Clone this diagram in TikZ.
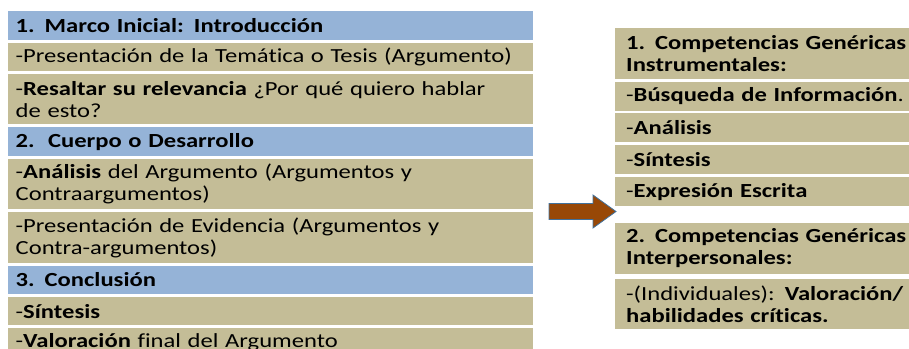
\documentclass[tikz,border=0pt]{standalone}
\usepackage{fontspec}
\setmainfont{Carlito}[FakeStretch=1.23, Ligatures=NoCommon]
\usepackage{tikz}
\usetikzlibrary{positioning}
\definecolor{headblue}{HTML}{95B3D7}
\definecolor{itemtan}{HTML}{C4BD97}
\definecolor{arrowbrown}{HTML}{984807}
\definecolor{arrowedge}{HTML}{41719C}

\begin{document}
\begin{tikzpicture}[node distance=2.5bp,
  leftrow/.style={rectangle, text width=510bp, inner xsep=7.5bp, inner ysep=0pt, align=left, font=\fontsize{20bp}{22bp}\selectfont, minimum height=28.5bp},
  rightrow/.style={rectangle, text width=300bp, inner xsep=11bp, inner ysep=0pt, align=left, font=\fontsize{20bp}{22bp}\selectfont, minimum height=29bp},
  secbox/.style={leftrow, fill=headblue},
  itembox/.style={leftrow, fill=itemtan},
  tallbox/.style={minimum height=50.5bp},
  compbox/.style={rightrow, fill=itemtan},
  blockarrow/.style={fill=arrowbrown, draw=arrowedge, thick}]
  \useasboundingbox (0,0) rectangle (909bp,-349bp);

  \node [secbox, anchor=north west] (m1) at (8bp,-11bp) {\textbf{1. Marco Inicial: Introducción}};
  \node [itembox, below=of m1] (m1a) {-Presentación de la Temática o Tesis (Argumento)};
  \node [itembox, tallbox, below=of m1a] (m1b) {-\textbf{Resaltar su relevancia} ¿Por qué quiero hablar\\de esto?};
  \node [secbox, below=of m1b] (m2) {\textbf{2.\ \ Cuerpo o Desarrollo}};
  \node [itembox, tallbox, below=of m2] (m2a) {-\textbf{Análisis} del Argumento (Argumentos y\\Contraargumentos)};
  \node [itembox, tallbox, below=of m2a] (m2b) {-Presentación de Evidencia (Argumentos y\\Contra-argumentos)};
  \node [secbox, below=of m2b] (m3) {\textbf{3. Conclusión}};
  \node [itembox, below=of m3] (m3a) {-\textbf{Síntesis}};
  \node [itembox, below=of m3a] (m3b) {-\textbf{Valoración} final del Argumento};

  \node [compbox, tallbox, anchor=north west] (c1) at (615bp,-28bp) {\textbf{1. Competencias Genéricas}\\\textbf{Instrumentales:}};
  \node [compbox, below=of c1] (c1a) {-\textbf{Búsqueda de Información}.};
  \node [compbox, below=of c1a] (c1b) {-\textbf{Análisis}};
  \node [compbox, below=of c1b] (c1c) {-\textbf{Síntesis}};
  \node [compbox, below=of c1c] (c1d) {-\textbf{Expresión Escrita}};
  \node [compbox, tallbox, below=16.5bp of c1d] (c2) {\textbf{2. Competencias Genéricas}\\\textbf{Interpersonales:}};
  \node [compbox, tallbox, below=4.5bp of c2] (c2a) {-(Individuales): \textbf{Valoración/}\\\textbf{habilidades críticas.}};

  \coordinate (go) at (549bp,-211.5bp);
  \draw [blockarrow] (go) ++(0,8bp) -- ++(44bp,0) -- ++(0,8.5bp) -- ++(23bp,-16.5bp)
    -- ++(-23bp,-16.5bp) -- ++(0,8.5bp) -- ++(-44bp,0) -- cycle;
\end{tikzpicture}
\end{document}
